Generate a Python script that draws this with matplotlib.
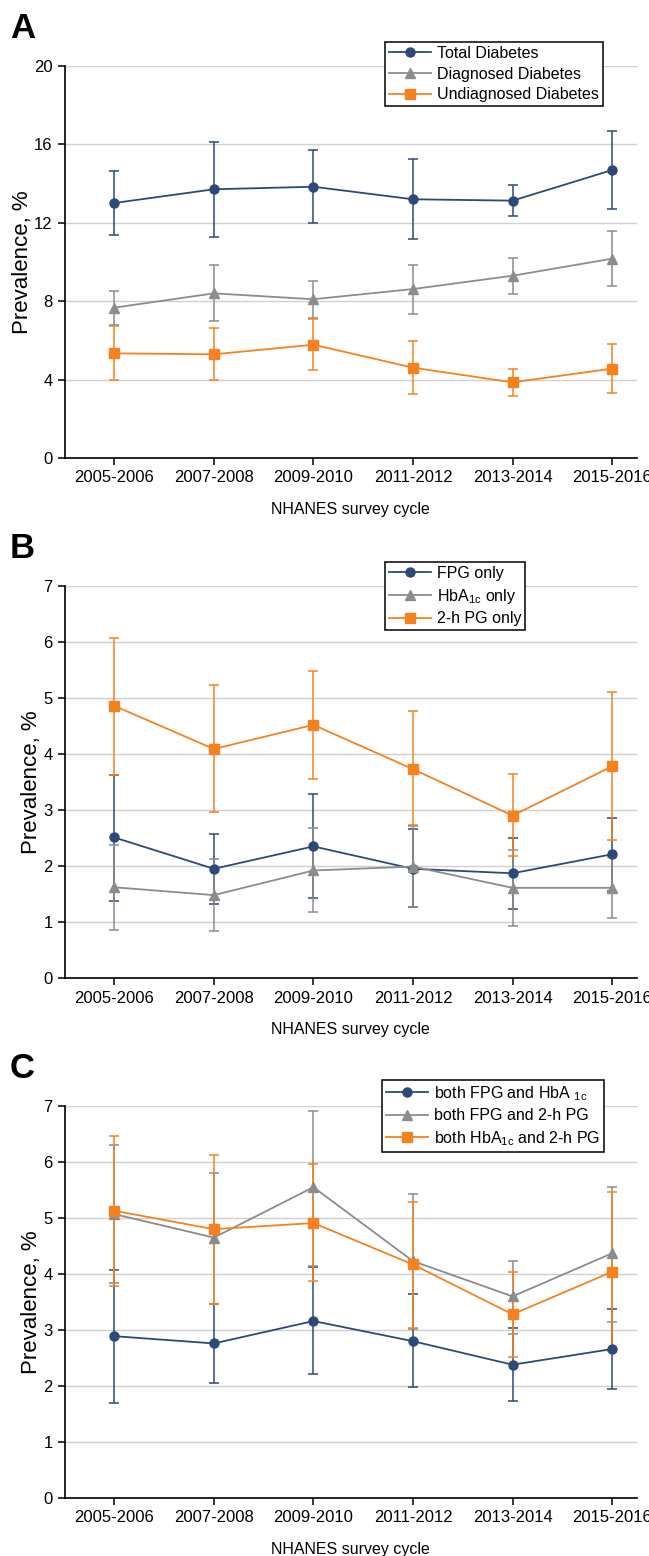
import matplotlib
matplotlib.use("Agg")
import matplotlib.pyplot as plt
from matplotlib.lines import Line2D

plt.rcParams['font.family'] = ['Liberation Sans', 'DejaVu Sans']
plt.rcParams['mathtext.fontset'] = 'custom'
plt.rcParams['mathtext.rm'] = 'Liberation Sans'
plt.rcParams['mathtext.it'] = 'Liberation Sans'

# survey cycles
cycles = ['2005-2006', '2007-2008', '2009-2010', '2011-2012', '2013-2014', '2015-2016']

# panel A
total_val = [13.01, 13.71, 13.84, 13.20, 13.13, 14.69]
total_lo = [11.36, 11.28, 12.01, 11.19, 12.36, 12.72]
total_hi = [14.66, 16.12, 15.71, 15.24, 13.95, 16.70]

diag_val = [7.67, 8.40, 8.10, 8.62, 9.30, 10.17]
diag_lo = [6.77, 6.97, 7.14, 7.36, 8.35, 8.76]
diag_hi = [8.52, 9.83, 9.01, 9.85, 10.22, 11.56]

undiag_val = [5.34, 5.29, 5.78, 4.61, 3.86, 4.56]
undiag_lo = [4.00, 3.96, 4.47, 3.28, 3.18, 3.32]
undiag_hi = [6.73, 6.62, 7.11, 5.95, 4.54, 5.83]

# panel B
fpg_val = [2.51, 1.95, 2.35, 1.95, 1.87, 2.21]
fpg_lo = [1.38, 1.32, 1.43, 1.26, 1.24, 1.55]
fpg_hi = [3.63, 2.58, 3.29, 2.66, 2.50, 2.86]

hba_val = [1.62, 1.48, 1.92, 1.99, 1.61, 1.61]
hba_lo = [0.86, 0.84, 1.17, 1.27, 0.92, 1.08]
hba_hi = [2.38, 2.12, 2.67, 2.72, 2.29, 2.16]

pg_val = [4.86, 4.09, 4.52, 3.73, 2.90, 3.78]
pg_lo = [3.62, 2.96, 3.55, 2.74, 2.17, 2.46]
pg_hi = [6.08, 5.24, 5.48, 4.76, 3.64, 5.10]

# panel C
fh_val = [2.89, 2.76, 3.16, 2.80, 2.38, 2.66]
fh_lo = [1.70, 2.06, 2.22, 1.98, 1.74, 1.94]
fh_hi = [4.08, 3.47, 4.12, 3.64, 3.03, 3.37]

fp_val = [5.07, 4.65, 5.55, 4.23, 3.60, 4.37]
fp_lo = [3.84, 3.47, 4.15, 3.02, 2.92, 3.15]
fp_hi = [6.31, 5.80, 6.91, 5.43, 4.23, 5.55]

hp_val = [5.13, 4.80, 4.91, 4.17, 3.28, 4.04]
hp_lo = [3.79, 3.47, 3.88, 3.04, 2.51, 2.63]
hp_hi = [6.47, 6.12, 5.96, 5.29, 4.03, 5.46]

BLUE = '#2c4a78'
GRAY = '#8c8c8c'
ORANGE = '#f5821f'
styles = [(BLUE, 'o', 6.5), (GRAY, '^', 7.5), (ORANGE, 's', 6.5)]

W, H = 649, 1556
fig = plt.figure(figsize=(W / 100, H / 100), dpi=100)


def panel(top_px, letter, series, labels, ymax, step, legend_box):
    left, right, bot_px = 64.5, 637, top_px + 392
    ax = fig.add_axes([left / W, 1 - bot_px / H, (right - left) / W, (bot_px - top_px) / H])
    x = list(range(len(cycles)))
    handles = []
    for (val, lo, hi), lab, (col, mk, ms) in zip(series, labels, styles):
        err = [[v - l for v, l in zip(val, lo)], [h - v for v, h in zip(val, hi)]]
        ax.errorbar(x, val, yerr=err, color=col, marker=mk, markersize=ms,
                    linewidth=1.3, elinewidth=1.1, capsize=3.5, capthick=1.1,
                    zorder=3)
        handles.append(Line2D([], [], color=col, marker=mk, markersize=ms,
                              linewidth=1.3, label=lab))
    ax.set_xlim(-0.5, 5.25)
    ax.set_ylim(0, ymax)
    ax.set_yticks([i * step for i in range(int(ymax / step) + 1)])
    ax.set_xticks(x)
    ax.set_xticklabels(cycles)
    ax.yaxis.grid(True, color='#d0d0d0', linewidth=1)
    ax.set_axisbelow(True)
    for s in ['top', 'right']:
        ax.spines[s].set_visible(False)
    for s in ['left', 'bottom']:
        ax.spines[s].set_linewidth(1.2)
    ax.tick_params(axis='both', labelsize=12, length=5, width=1.1, direction='out')
    ax.tick_params(axis='x', pad=4)
    ax.set_xlabel('NHANES survey cycle', fontsize=11.5, labelpad=12)
    ax.set_ylabel('Prevalence, %', fontsize=16, labelpad=1)
    fig.text(10 / W, 1 - (top_px - 38) / H, letter, fontsize=25, fontweight='bold',
             ha='left', va='center')
    leg = ax.legend(handles=handles, loc='upper left',
                    bbox_to_anchor=(legend_box[0] / W, 1 - legend_box[1] / H),
                    bbox_transform=fig.transFigure, fontsize=11.5, frameon=True,
                    fancybox=False, edgecolor='black', framealpha=1,
                    handlelength=2.6, handletextpad=0.4, borderpad=0.25,
                    labelspacing=0.35, borderaxespad=0)
    leg.get_frame().set_linewidth(1.1)
    return ax


panel(66, 'A',
      [(total_val, total_lo, total_hi), (diag_val, diag_lo, diag_hi), (undiag_val, undiag_lo, undiag_hi)],
      ['Total Diabetes', 'Diagnosed Diabetes', 'Undiagnosed Diabetes'],
      20, 4, (385, 42))

panel(586, 'B',
      [(fpg_val, fpg_lo, fpg_hi), (hba_val, hba_lo, hba_hi), (pg_val, pg_lo, pg_hi)],
      ['FPG only', r'HbA$_{\mathrm{1c}}$ only', '2-h PG only'],
      7, 1, (385, 562))

panel(1106, 'C',
      [(fh_val, fh_lo, fh_hi), (fp_val, fp_lo, fp_hi), (hp_val, hp_lo, hp_hi)],
      [r'both FPG and HbA $_{\mathrm{1c}}$', 'both FPG and 2-h PG',
       r'both HbA$_{\mathrm{1c}}$ and 2-h PG'],
      7, 1, (382, 1080))

fig.savefig('out.png', dpi=100)
